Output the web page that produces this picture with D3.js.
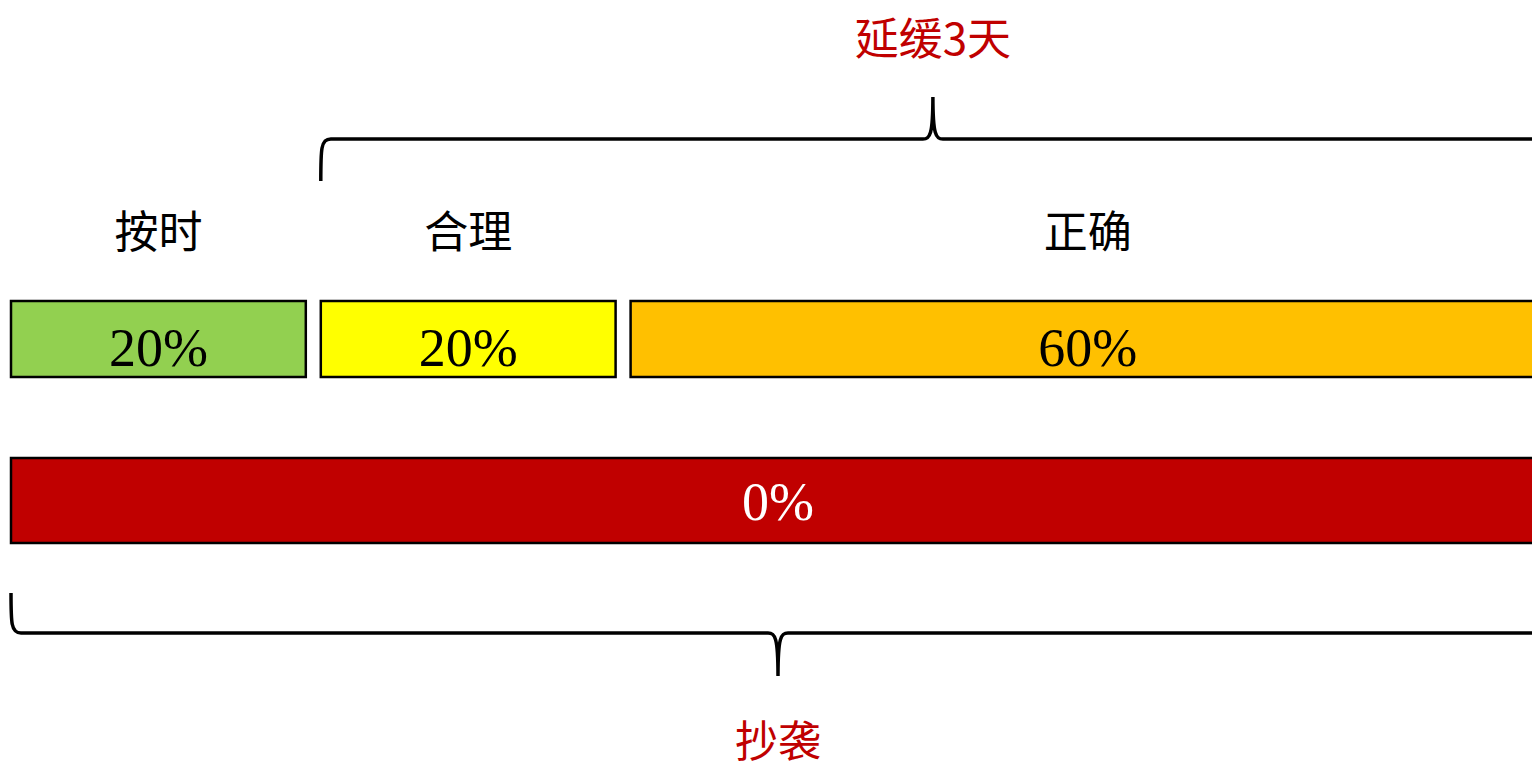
<!DOCTYPE html>
<html>
<head>
<meta charset="utf-8">
<script src="https://cdn.jsdelivr.net/npm/d3@7"></script>
<style>
  html, body { margin: 0; padding: 0; background: #fff; overflow: hidden; }
</style>
</head>
<body>
<script>
// grading parts
const segLabels = ['按时', '合理', '正确'];
const segValues = [20, 20, 60];
const segColors = ['#92d050', '#ffff00', '#ffc000'];

const plagLabel = '抄袭';
const plagValue = 0;
const plagColor = '#c00000';

const delayLabel = '延缓3天';
const delayFrom = 20;   // brace covers 合理 + 正确

const W = 1532, H = 769;
const gap = 15;
const cjk = '"Noto Sans CJK SC", sans-serif';
const serif = '"Liberation Serif", "Times New Roman", serif';

const svg = d3.select('body').append('svg')
    .attr('width', W)
    .attr('height', H);

const x = d3.scaleLinear().domain([0, 100]).range([11, 1560]);
const right = x(100) - gap;

// cumulative starts
let acc = 0;
const segs = segValues.map((v, i) => {
    const s = acc;
    acc += v;
    return {label: segLabels[i], value: v, color: segColors[i], start: s, end: acc};
});

// top row
const g = svg.append('g');
g.selectAll('rect.seg')
    .data(segs)
    .enter()
    .append('rect')
    .attr('class', 'seg')
    .attr('x', d => x(d.start))
    .attr('y', 301)
    .attr('width', d => x(d.end) - gap - x(d.start))
    .attr('height', 76)
    .attr('fill', d => d.color)
    .attr('stroke', '#000')
    .attr('stroke-width', 2.5);

g.selectAll('text.pct')
    .data(segs)
    .enter()
    .append('text')
    .attr('x', d => (x(d.start) + x(d.end) - gap) / 2)
    .attr('y', 366)
    .attr('text-anchor', 'middle')
    .style('font-family', serif)
    .style('font-size', '54px')
    .attr('fill', '#000')
    .text(d => d.value + '%');

g.selectAll('text.lab')
    .data(segs)
    .enter()
    .append('text')
    .attr('x', d => (x(d.start) + x(d.end) - gap) / 2)
    .attr('y', 248)
    .attr('text-anchor', 'middle')
    .style('font-family', cjk)
    .style('font-size', '44px')
    .attr('fill', '#000')
    .text(d => d.label);

// plagiarism bar
svg.append('rect')
    .attr('x', x(0))
    .attr('y', 458)
    .attr('width', right - x(0))
    .attr('height', 85)
    .attr('fill', plagColor)
    .attr('stroke', '#000')
    .attr('stroke-width', 2.5);

svg.append('text')
    .attr('x', (x(0) + right) / 2)
    .attr('y', 520)
    .attr('text-anchor', 'middle')
    .style('font-family', serif)
    .style('font-size', '54px')
    .attr('fill', '#fff')
    .text(plagValue + '%');

// curly brace; dir = -1 tip up, 1 tip down
function brace(x0, x1, yEnd, yLine, yTip, dir) {
    const m = (x0 + x1) / 2;
    const r = 10;
    const p = d3.path();
    p.moveTo(x0, yEnd);
    p.bezierCurveTo(x0, yLine - dir * r, x0, yLine, x0 + r, yLine);
    p.lineTo(m - r, yLine);
    p.bezierCurveTo(m - 3, yLine, m, yLine + dir * 4, m, yTip);
    p.moveTo(x1, yEnd);
    p.bezierCurveTo(x1, yLine - dir * r, x1, yLine, x1 - r, yLine);
    p.lineTo(m + r, yLine);
    p.bezierCurveTo(m + 3, yLine, m, yLine + dir * 4, m, yTip);
    return p.toString();
}

svg.append('path')
    .attr('d', brace(x(delayFrom), right, 181, 139, 97, -1))
    .attr('fill', 'none')
    .attr('stroke', '#000')
    .attr('stroke-width', 3.5);

svg.append('text')
    .attr('x', (x(delayFrom) + right) / 2)
    .attr('y', 55)
    .attr('text-anchor', 'middle')
    .style('font-family', cjk)
    .style('font-size', '44px')
    .attr('fill', plagColor)
    .text(delayLabel);

svg.append('path')
    .attr('d', brace(x(0), right, 593, 633, 676, 1))
    .attr('fill', 'none')
    .attr('stroke', '#000')
    .attr('stroke-width', 3.5);

svg.append('text')
    .attr('x', (x(0) + right) / 2)
    .attr('y', 757)
    .attr('text-anchor', 'middle')
    .style('font-family', cjk)
    .style('font-size', '43px')
    .attr('fill', plagColor)
    .text(plagLabel);
</script>
</body>
</html>
